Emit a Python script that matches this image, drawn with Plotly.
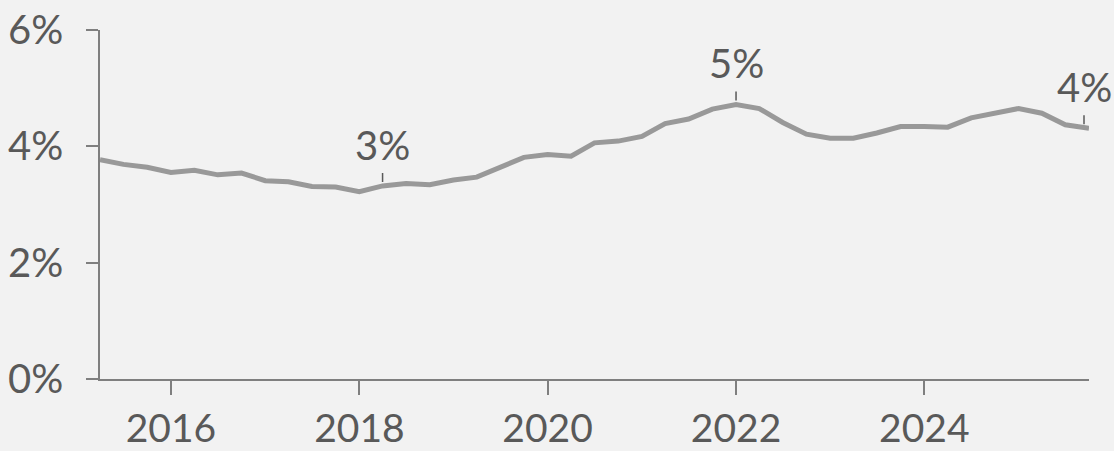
import plotly.graph_objects as go

# Quarterly series (percent)
quarters = [
    "2015-04-01", "2015-07-01", "2015-10-01",
    "2016-01-01", "2016-04-01", "2016-07-01", "2016-10-01",
    "2017-01-01", "2017-04-01", "2017-07-01", "2017-10-01",
    "2018-01-01", "2018-04-01", "2018-07-01", "2018-10-01",
    "2019-01-01", "2019-04-01", "2019-07-01", "2019-10-01",
    "2020-01-01", "2020-04-01", "2020-07-01", "2020-10-01",
    "2021-01-01", "2021-04-01", "2021-07-01", "2021-10-01",
    "2022-01-01", "2022-04-01", "2022-07-01", "2022-10-01",
    "2023-01-01", "2023-04-01", "2023-07-01", "2023-10-01",
    "2024-01-01", "2024-04-01", "2024-07-01", "2024-10-01",
    "2025-01-01", "2025-04-01", "2025-07-01", "2025-10-01",
]
rate = [
    3.77, 3.69, 3.64,
    3.55, 3.59, 3.51, 3.54,
    3.41, 3.39, 3.31, 3.30,
    3.22, 3.32, 3.36, 3.34,
    3.42, 3.47, 3.65, 3.81,
    3.86, 3.83, 4.06, 4.09,
    4.17, 4.39, 4.47, 4.64,
    4.72, 4.65, 4.41, 4.21,
    4.14, 4.14, 4.23, 4.34,
    4.34, 4.33, 4.49, 4.57,
    4.65, 4.57, 4.37, 4.31,
]
labelled = ["2018-04-01", "2022-01-01", "2025-10-01"]

y_ticks = [0, 2, 4, 6]
y_tick_text = ["0%", "2%", "4%", "6%"]

FONT = "Lato, sans-serif"
SIZE = 40
TEXT = "#595959"
AXIS = "#7f7f7f"
BG = "#f2f2f2"

fig = go.Figure()
fig.add_trace(go.Scatter(
    x=quarters, y=rate, mode="lines",
    line=dict(color="#999999", width=5),
    hoverinfo="skip", showlegend=False,
))

for d in labelled:
    v = rate[quarters.index(d)]
    last = d == quarters[-1]
    fig.add_annotation(
        x=d, y=v, xref="x", yref="y",
        text=f"{round(v)}%",
        showarrow=True, arrowhead=0, arrowwidth=1.5, arrowcolor=TEXT,
        ax=0, ay=-13, standoff=4, yanchor="bottom", borderpad=3,
        xshift=-5 if last else 0,
        font=dict(family=FONT, size=SIZE, color=TEXT),
    )

fig.update_layout(
    width=1114, height=451,
    margin=dict(l=100, r=25, t=30, b=72),
    paper_bgcolor=BG, plot_bgcolor=BG,
    font=dict(family=FONT, size=SIZE, color=TEXT),
    xaxis=dict(
        type="date", range=[quarters[0], quarters[-1]],
        tick0="2016-01-01", dtick="M24", tickformat="%Y",
        tickfont=dict(size=39),
        showline=True, linecolor=AXIS, linewidth=1.5,
        ticks="outside", ticklen=14, tickwidth=1.5, tickcolor=AXIS,
        showgrid=False, zeroline=False, ticklabelstandoff=0,
        automargin=False,
    ),
    yaxis=dict(
        range=[0, 6], tickvals=y_ticks, ticktext=y_tick_text,
        showline=True, linecolor=AXIS, linewidth=1.5,
        ticks="outside", ticklen=12, tickwidth=1.5, tickcolor=AXIS,
        showgrid=False, zeroline=False, ticklabelstandoff=15,
        automargin=False,
    ),
)

fig.write_html("out.html")
